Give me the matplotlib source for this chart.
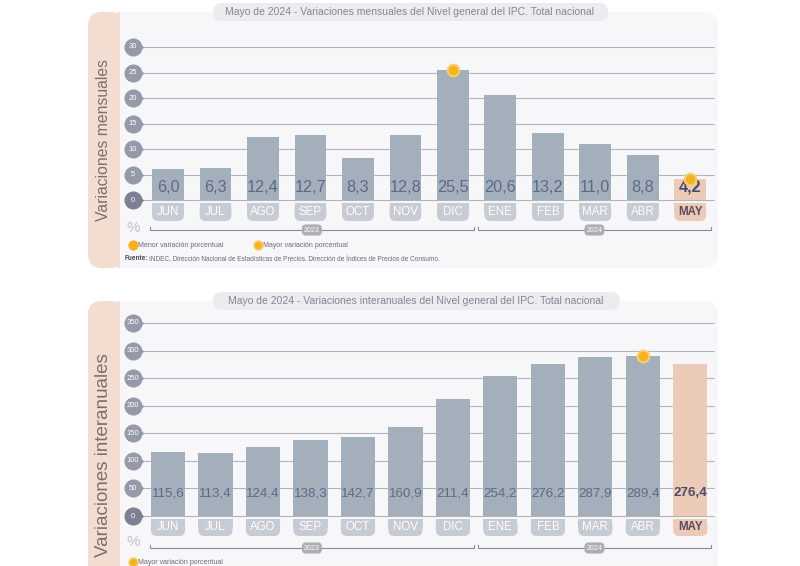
import matplotlib
matplotlib.use('Agg')
import matplotlib.pyplot as plt
from matplotlib.patches import FancyBboxPatch, Rectangle

plt.rcParams['font.family'] = ['Liberation Sans', 'DejaVu Sans']

# data
months = ['JUN', 'JUL', 'AGO', 'SEP', 'OCT', 'NOV', 'DIC', 'ENE', 'FEB', 'MAR', 'ABR', 'MAY']
mensual = [6.0, 6.3, 12.4, 12.7, 8.3, 12.8, 25.5, 20.6, 13.2, 11.0, 8.8, 4.2]
interanual = [115.6, 113.4, 124.4, 138.3, 142.7, 160.9, 211.4, 254.2, 276.2, 287.9, 289.4, 276.4]
mensual_ticks = [0, 5, 10, 15, 20, 25, 30]
interanual_ticks = [0, 50, 100, 150, 200, 250, 300, 350]
years = ['2023', '2024']
year_spans = [(0, 6), (7, 11)]

W, H = 800, 566
BAR = '#a4afbc'
MAY_BAR = '#ebcab7'
PILL = '#c6cbd4'
CARD = '#f7f7f9'
PINK = '#f3dcd0'
VAL = '#5d6a87'
DOT = '#f3b21f'

fig = plt.figure(figsize=(8, 5.66), dpi=100)
fig.patch.set_facecolor('white')


def box(x0, y0, x1, y1, color, r=0, z=-10):
    # rectangle in pixels measured from the top-left corner
    p = FancyBboxPatch((x0 / 100, (H - y1) / 100), (x1 - x0) / 100, (y1 - y0) / 100,
                       boxstyle=f'round,pad=0,rounding_size={r / 100}',
                       transform=fig.dpi_scale_trans, facecolor=color, edgecolor='none', zorder=z)
    fig.patches.append(p)


def ftext(x, y, s, **kw):
    fig.text(x / W, 1 - y / H, s, **kw)


def panel(top, bottom, ylab, ylab_y, ylab_size):
    box(88, top, 718, bottom, CARD, r=14)
    box(88, top, 124, bottom, PINK, r=14, z=-9)
    box(118, top, 124, bottom, PINK, z=-9)
    box(120, top, 124, bottom, CARD, z=-8)
    ftext(104, ylab_y, ylab, rotation=90, ha='center', va='center', fontsize=ylab_size,
          color='#7c6f70')


def draw_bars(ax, values, ticks, scale, y_val, pill, pct_y, brk_y, bar_w, val_size):
    # scale: pixels per data unit
    n = len(values)
    for t in ticks:
        ax.axhline(t, color='#b4b4b8', lw=0.8, zorder=1)
        c = '#7d8092' if t == 0 else '#9599aa'
        ax.plot([-0.012], [t], transform=ax.get_yaxis_transform(), marker='o', ms=12,
                color=c, clip_on=False, zorder=3)
        ax.plot([0.0], [t], transform=ax.get_yaxis_transform(), marker='>', ms=4,
                color=c, clip_on=False, zorder=3)
        ax.text(-0.012, t, str(t), transform=ax.get_yaxis_transform(), ha='center', va='center',
                fontsize=5.5, color='white', zorder=4)
    colors = [BAR] * (n - 1) + [MAY_BAR]
    ax.bar(range(n), values, width=bar_w, color=colors, zorder=2)
    p0, p1 = pill
    for i, (m, v) in enumerate(zip(months, values)):
        last = i == n - 1
        pc = MAY_BAR if last else PILL
        ax.add_patch(FancyBboxPatch((i - bar_w / 2, p1), bar_w, p0 - p1,
                                    boxstyle=f'round,pad=0,rounding_size={6 / 47.5}',
                                    mutation_aspect=47.5 / scale,
                                    facecolor=pc, edgecolor='none', clip_on=False, zorder=2))
        ax.add_patch(Rectangle((i - bar_w / 2, (p0 + p1) / 2), bar_w, (p0 - p1) / 2,
                               facecolor=pc, edgecolor='none', clip_on=False, zorder=2))
        ax.text(i, (p0 + p1) / 2, m, ha='center', va='center', fontsize=8.3,
                color='#5a4d5e' if last else 'white', fontweight='bold' if last else 'normal',
                zorder=3, clip_on=False)
        ax.text(i, y_val, f'{v:.1f}'.replace('.', ','), ha='center', va='center',
                fontsize=val_size,
                color='#4c4b68' if last else VAL, fontweight='bold' if last else 'normal',
                zorder=3)
    ax.text(-0.012, pct_y, '%', transform=ax.get_yaxis_transform(), ha='center', va='center',
            fontsize=11, color='#c2c2ca', clip_on=False)
    tick = 3 / scale
    for yr, (a, b) in zip(years, year_spans):
        x0 = a - 0.38 if a == 0 else a - 0.48
        x1 = b + 0.44
        ax.plot([x0, x0, x1, x1], [brk_y + tick, brk_y, brk_y, brk_y + tick], color='#8c8c94',
                lw=0.8, clip_on=False)
        ax.text((x0 + x1) / 2, brk_y, yr, ha='center', va='center', fontsize=5, color='white',
                bbox=dict(boxstyle='round,pad=0.3,rounding_size=0.6', fc='#adadb5', ec='none'),
                clip_on=False)
    ax.set_xlim(-0.59, 11.52)
    ax.axis('off')


# top panel: month-on-month
panel(12, 268, 'Variaciones mensuales', 140, 11.3)
box(213, 3, 608, 21, '#ececf0', r=9, z=-5)
ftext(410, 12, 'Mayo de 2024 - Variaciones mensuales del Nivel general del IPC. Total nacional',
      ha='center', va='center', fontsize=7.5, color='#85858f')

s1 = 153 / 30
ax1 = fig.add_axes([140 / W, 1 - 235 / H, 575 / W, 195 / H])
ax1.set_ylim(-35 / s1, 30 + 7 / s1)
draw_bars(ax1, mensual, mensual_ticks, s1, 13 / s1, (-3 / s1, -21 / s1), -28 / s1, -30 / s1,
          0.67, 11.7)
ax1.scatter([6, 11], [25.5, 4.2], s=70, color=DOT, edgecolor='#f8cf6e', lw=1.5, zorder=5,
            clip_on=False)

ax1.scatter([-0.74], [-45 / s1], s=40, color=DOT, clip_on=False, zorder=5)
ax1.text(-0.63, -45 / s1, 'Menor variación porcentual', fontsize=5, color='#6a6a72', va='center')
ax1.scatter([1.89], [-45 / s1], s=40, color=DOT, edgecolor='#f8cf6e', lw=1.2, clip_on=False, zorder=5)
ax1.text(2.0, -45 / s1, 'Mayor variación porcentual', fontsize=5, color='#6a6a72', va='center')
ftext(125, 259, 'Fuente:', fontsize=4.7, color='#4a4a55', fontweight='bold', va='center')
ftext(149, 259, 'INDEC, Dirección Nacional de Estadísticas de Precios. '
      'Dirección de Índices de Precios de Consumo.', fontsize=4.7, color='#6a6a72', va='center')

# bottom panel: year-on-year
panel(301, 600, 'Variaciones interanuales', 455, 13.5)
box(213, 292, 620, 310, '#ececf0', r=9, z=-5)
ftext(416, 301, 'Mayo de 2024 - Variaciones interanuales del Nivel general del IPC. Total nacional',
      ha='center', va='center', fontsize=7.5, color='#85858f')

s2 = 193 / 350
ax2 = fig.add_axes([140 / W, 0, 575 / W, 251 / H])
ax2.set_ylim(-50 / s2, 350 + 8 / s2)
draw_bars(ax2, interanual, interanual_ticks, s2, 23 / s2, (-3 / s2, -20 / s2), -26 / s2, -32 / s2,
          0.72, 9.6)
ax2.scatter([10], [289.4], s=70, color=DOT, edgecolor='#f8cf6e', lw=1.5, zorder=5, clip_on=False)
ax2.scatter([-0.74], [-46 / s2], s=40, color=DOT, edgecolor='#f8cf6e', lw=1.2, clip_on=False, zorder=5)
ax2.text(-0.63, -46 / s2, 'Mayor variación porcentual', fontsize=5, color='#6a6a72', va='center')

fig.savefig('out.png', dpi=100)
